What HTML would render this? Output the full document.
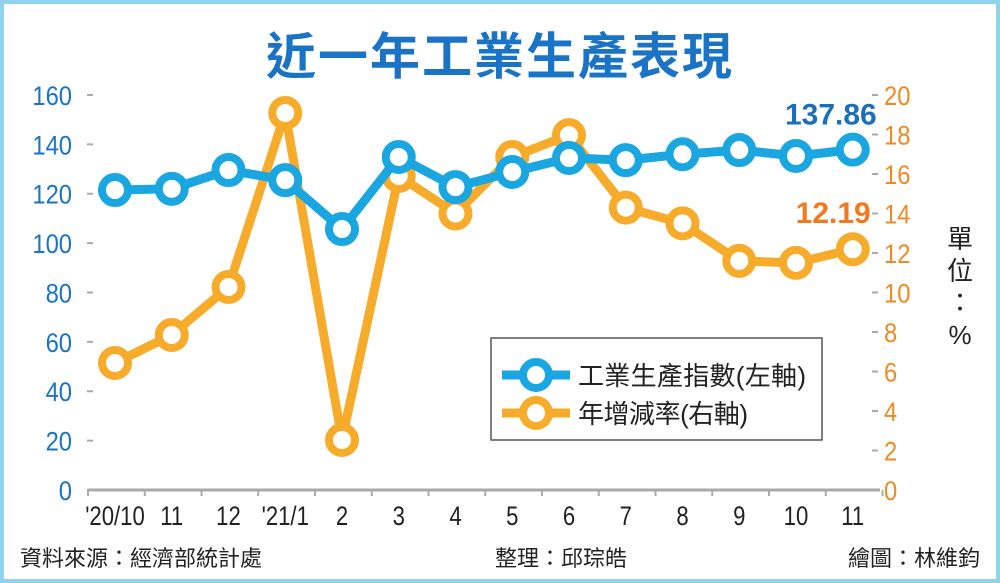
<!DOCTYPE html>
<html><head><meta charset="utf-8"><style>
body{margin:0;background:#fff}
svg{display:block}
text{font-family:"Liberation Sans","Noto Sans CJK TC",sans-serif}
</style></head><body>
<svg id="c" width="1000" height="583" viewBox="0 0 1000 583">
<rect x="2" y="2" width="996" height="579" fill="#fff" stroke="#8fd3ef" stroke-width="4"/>
<text x="500" y="74" text-anchor="middle" font-size="50" font-weight="bold" letter-spacing="2" fill="#1a73c4">近一年工業生產表現</text>
<g id="axes"></g>
<g id="series"></g>
<g>
<rect x="491" y="338" width="331" height="102" fill="#fff" stroke="#555" stroke-width="1.5"/>
<line x1="502" y1="375" x2="570" y2="375" stroke="#1aa6e0" stroke-width="9"/>
<circle cx="536" cy="375" r="13" fill="#fff" stroke="#1aa6e0" stroke-width="8"/>
<text x="578" y="385" font-size="26" textLength="228" fill="#222">工業生產指數(左軸)</text>
<line x1="502" y1="413" x2="570" y2="413" stroke="#f6ab2b" stroke-width="9"/>
<circle cx="536" cy="413" r="13" fill="#fff" stroke="#f6ab2b" stroke-width="8"/>
<text x="578" y="423" font-size="26" textLength="170" fill="#222">年增減率(右軸)</text>
</g>
<text x="960" y="248" text-anchor="middle" font-size="26" fill="#222"><tspan x="960">單</tspan><tspan x="960" dy="32">位</tspan><tspan x="960" dy="32">：</tspan><tspan x="960" dy="32">%</tspan></text>
<text x="20" y="566" font-size="22" fill="#222">資料來源：經濟部統計處</text>
<text x="495" y="566" font-size="22" fill="#222">整理：邱琮皓</text>
<text x="980" y="566" text-anchor="end" font-size="22" fill="#222">繪圖：林維鈞</text>
</svg>
<script>
const categories=["'20/10","11","12","'21/1","2","3","4","5","6","7","8","9","10","11"];
const indexValues=[121.5,122,129.6,125.5,105.7,134.9,122.7,128.8,134.5,133.6,136,137.7,135.3,137.86];
const growthValues=[6.43,7.85,10.28,19.09,2.53,15.9,14.0,16.86,17.97,14.3,13.5,11.6,11.5,12.19];
const leftTicks=[0,20,40,60,80,100,120,140,160];
const rightTicks=[0,2,4,6,8,10,12,14,16,18,20];
const NS="http://www.w3.org/2000/svg";
const x0=115,dx=56.75,yb=490,yt=95;
const xs=i=>x0+i*dx;
const yl=v=>yb-v/160*(yb-yt);
const yr=v=>yb-v/20*(yb-yt);
function mk(p,t,a){const e=document.createElementNS(NS,t);for(const k in a)e.setAttribute(k,a[k]);p.appendChild(e);return e;}
const ax=document.getElementById('axes'),sr=document.getElementById('series');
let el=mk(ax,'line',{x1:88,y1:yb,x2:880,y2:yb,stroke:'#aaa','stroke-width':3});


for(let i=0;i<=categories.length;i++){const x=88+i*dx;el=mk(ax,'line',{x1:x,y1:yb,x2:x,y2:yb+6,stroke:'#aaa','stroke-width':2});

}
categories.forEach((c,i)=>{el=mk(ax,'text',{x:xs(i),y:525,'text-anchor':'middle','font-size':27,fill:'#222',transform:`translate(${xs(i)},0) scale(0.82,1) translate(${-xs(i)},0)`});el.textContent=c;

});
leftTicks.forEach(v=>{el=mk(ax,'text',{x:72,y:yl(v)+10,'text-anchor':'end','font-size':27,fill:'#1a73c4',transform:`translate(72,0) scale(0.88,1) translate(-72,0)`});el.textContent=v;


el=mk(ax,'line',{x1:87,y1:yl(v),x2:93,y2:yl(v),stroke:'#aaa','stroke-width':2});

});
rightTicks.forEach(v=>{el=mk(ax,'text',{x:884,y:yr(v)+10,'font-size':27,fill:'#f08a20',transform:`translate(884,0) scale(0.88,1) translate(-884,0)`});el.textContent=v;


el=mk(ax,'line',{x1:872,y1:yr(v),x2:878,y2:yr(v),stroke:'#aaa','stroke-width':2});

});
function series(vals,fy,col,name){
 el=mk(sr,'polyline',{points:vals.map((v,i)=>xs(i)+','+fy(v)).join(' '),fill:'none',stroke:col,'stroke-width':9,'stroke-linejoin':'round'});
 
 
 vals.forEach((v,i)=>{el=mk(sr,'circle',{cx:xs(i),cy:fy(v),r:13,fill:'#fff',stroke:col,'stroke-width':8});
 
 });
}
series(growthValues,yr,'#f6ab2b','growth');
series(indexValues,yl,'#1aa6e0','index');
const n=categories.length-1;
el=mk(sr,'text',{x:xs(n)+24,y:yl(indexValues[n])-25,'text-anchor':'end','font-size':30,'font-weight':'bold',fill:'#1a6fb8'});el.textContent=indexValues[n].toFixed(2);


el=mk(sr,'text',{x:xs(n)+18,y:yr(growthValues[n])-26,'text-anchor':'end','font-size':30,'font-weight':'bold',fill:'#ef7a22'});el.textContent=growthValues[n].toFixed(2);


</script>
</body></html>
